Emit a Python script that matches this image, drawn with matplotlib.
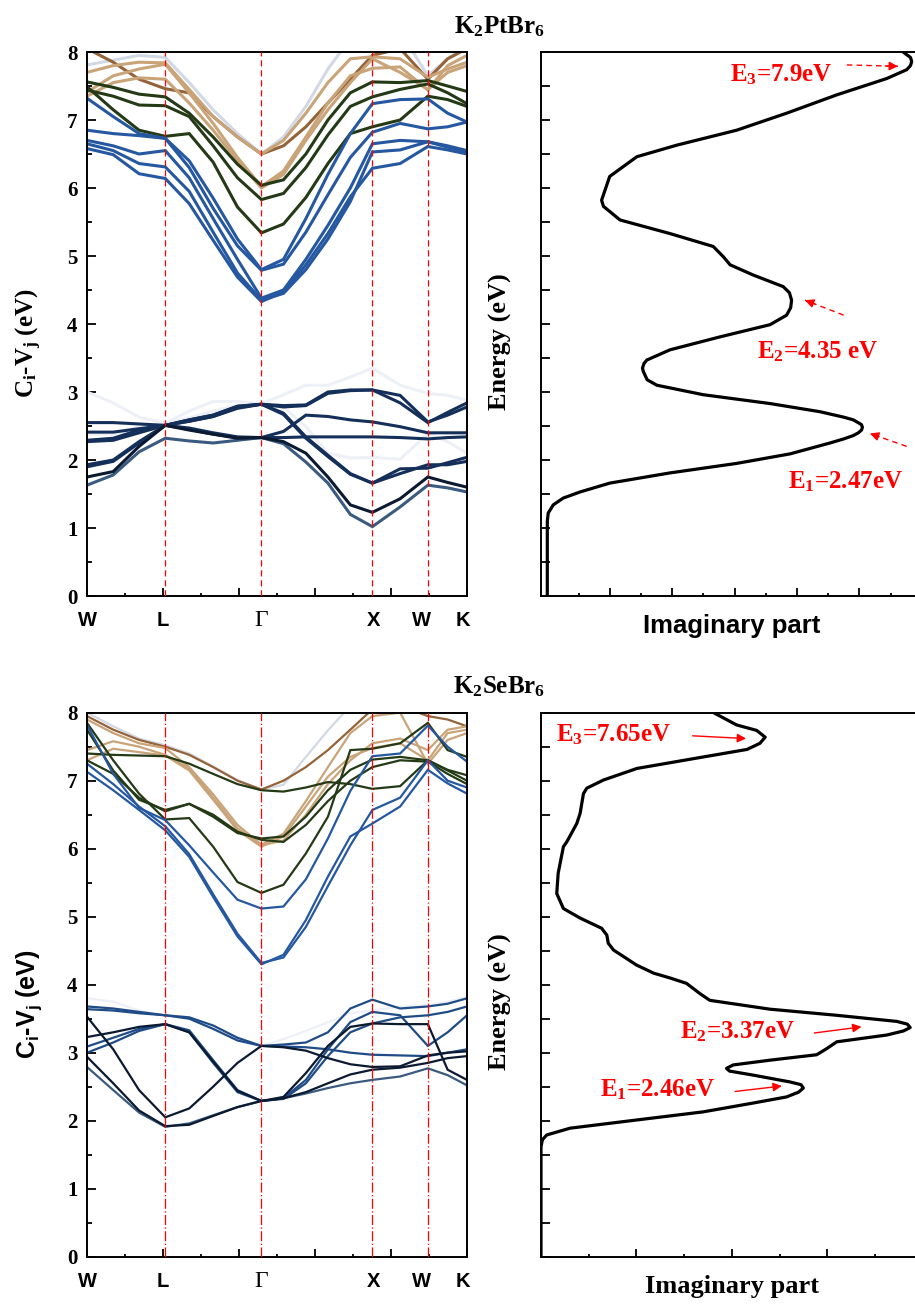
import numpy as np
import matplotlib
matplotlib.use('Agg')
import matplotlib.pyplot as plt
from matplotlib.ticker import MultipleLocator
from matplotlib.transforms import blended_transform_factory

plt.rcParams['mathtext.fontset'] = 'custom'
plt.rcParams['mathtext.rm'] = 'Liberation Serif'
plt.rcParams['mathtext.it'] = 'Liberation Serif:italic'
plt.rcParams['mathtext.bf'] = 'Liberation Serif:bold'
plt.rcParams['mathtext.sf'] = 'Liberation Sans:bold'

# ---------------- k-path ----------------
kpath_labels = ['W', 'L', 'Γ', 'X', 'W', 'K']
kpath_pos = [0.0, 0.206, 0.459, 0.751, 0.897, 1.0]
klabel_pos = [0.0, 0.200, 0.458, 0.753, 0.881, 0.989]
kgrid = [0.0, 0.069, 0.137, 0.206, 0.269, 0.332, 0.396, 0.459, 0.517,
         0.576, 0.634, 0.693, 0.751, 0.824, 0.897, 0.949, 1.0]

# ---------------- K2PtBr6 transition bands (eV) ----------------
pt_lo_white = [
    [3.00, 2.84, 2.63, 2.54, 2.72, 2.86, 2.86, 2.83, 2.96, 3.10, 3.10, 3.22, 3.35, 3.10, 2.98, 2.95, 2.88],
    [2.38, 2.38, 2.49, 2.54, 2.62, 2.72, 2.80, 2.82, 2.78, 2.49, 2.10, 2.03, 2.04, 2.01, 2.39, 2.27, 2.10],
]
pt_lo_navy = [
    [1.93, 2.00, 2.27, 2.51, 2.59, 2.66, 2.79, 2.82, 2.69, 2.34, 2.07, 1.80, 1.66, 1.87, 1.88, 1.96, 2.04],
    [1.90, 1.98, 2.25, 2.51, 2.57, 2.64, 2.77, 2.82, 2.67, 2.32, 2.05, 1.79, 1.66, 1.80, 1.93, 1.93, 1.98],
    [2.55, 2.55, 2.53, 2.51, 2.45, 2.38, 2.33, 2.33, 2.33, 2.34, 2.34, 2.34, 2.34, 2.33, 2.31, 2.33, 2.34],
    [2.41, 2.41, 2.46, 2.51, 2.57, 2.64, 2.76, 2.82, 2.80, 2.81, 3.00, 3.03, 3.03, 2.84, 2.55, 2.70, 2.84],
    [2.29, 2.32, 2.44, 2.51, 2.47, 2.40, 2.34, 2.33, 2.42, 2.66, 2.64, 2.59, 2.56, 2.49, 2.40, 2.40, 2.40],
    [2.27, 2.29, 2.40, 2.51, 2.59, 2.66, 2.79, 2.82, 2.78, 2.80, 2.98, 3.02, 3.03, 2.95, 2.56, 2.66, 2.78],
]
pt_lo_dark = [
    [1.75, 1.83, 2.20, 2.51, 2.44, 2.38, 2.32, 2.33, 2.27, 2.10, 1.75, 1.34, 1.23, 1.43, 1.75, 1.67, 1.60],
]
pt_lo_slate = [
    [1.63, 1.78, 2.12, 2.32, 2.28, 2.25, 2.29, 2.33, 2.24, 1.97, 1.66, 1.20, 1.02, 1.31, 1.63, 1.59, 1.53],
]
pt_up_light = [
    [7.81, 7.88, 7.95, 7.92, 7.55, 7.15, 6.80, 6.50, 6.75, 7.20, 7.75, 8.20, 8.40, 8.30, 7.65, 7.90, 8.10],
]
pt_up_brown = [
    [8.05, 7.85, 7.60, 7.46, 7.40, 7.05, 6.75, 6.50, 6.62, 6.90, 7.25, 7.60, 7.95, 8.05, 7.60, 7.90, 8.05],
]
pt_up_tan = [
    [7.41, 7.65, 7.75, 7.82, 7.40, 6.95, 6.45, 6.02, 6.25, 6.75, 7.25, 7.65, 7.76, 7.78, 7.44, 7.80, 7.95],
    [7.70, 7.80, 7.85, 7.84, 7.45, 7.05, 6.75, 6.50, 6.70, 7.10, 7.55, 7.90, 7.93, 7.90, 7.63, 7.75, 7.85],
    [7.35, 7.55, 7.62, 7.60, 7.25, 6.85, 6.40, 6.00, 6.20, 6.70, 7.15, 7.55, 7.90, 7.70, 7.45, 7.70, 7.80],
]
pt_up_green = [
    [7.49, 7.15, 6.85, 6.76, 6.80, 6.38, 5.72, 5.34, 5.47, 5.86, 6.36, 6.80, 6.90, 7.00, 7.35, 7.30, 7.20],
    [7.44, 7.35, 7.22, 7.21, 7.05, 6.62, 6.15, 5.83, 5.92, 6.30, 6.78, 7.20, 7.34, 7.45, 7.53, 7.40, 7.24],
    [7.56, 7.48, 7.38, 7.34, 7.10, 6.75, 6.35, 6.04, 6.12, 6.50, 7.00, 7.40, 7.56, 7.55, 7.58, 7.50, 7.42],
]
pt_up_blue = [
    [6.58, 6.49, 6.21, 6.14, 5.77, 5.23, 4.69, 4.33, 4.47, 4.87, 5.33, 5.87, 6.29, 6.36, 6.61, 6.56, 6.50],
    [6.65, 6.55, 6.36, 6.31, 5.95, 5.35, 4.75, 4.35, 4.45, 4.80, 5.25, 5.80, 6.53, 6.56, 6.68, 6.60, 6.53],
    [6.70, 6.62, 6.50, 6.55, 6.15, 5.55, 4.95, 4.38, 4.50, 4.95, 5.45, 6.00, 6.65, 6.70, 6.68, 6.62, 6.55],
    [6.85, 6.80, 6.77, 6.73, 6.30, 5.70, 5.15, 4.79, 4.88, 5.35, 5.90, 6.45, 6.82, 6.95, 6.87, 6.90, 6.97],
    [7.32, 7.05, 6.80, 6.73, 6.40, 5.85, 5.25, 4.80, 4.95, 5.55, 6.20, 6.80, 7.24, 7.30, 7.31, 7.10, 6.97],
]

# ---------------- K2SeBr6 transition bands (eV) ----------------
se_lo_white = [
    [3.80, 3.75, 3.62, 3.55, 3.52, 3.38, 3.20, 3.10, 3.20, 3.32, 3.45, 3.58, 3.62, 3.68, 3.70, 3.75, 3.82],
]
se_lo_blue = [
    [3.64, 3.62, 3.58, 3.55, 3.52, 3.40, 3.22, 3.10, 3.09, 3.08, 3.05, 3.00, 2.97, 2.96, 2.95, 3.00, 3.05],
    [3.09, 3.22, 3.35, 3.42, 3.33, 2.89, 2.45, 2.29, 2.33, 2.60, 3.05, 3.45, 3.60, 3.55, 3.10, 3.30, 3.55],
    [3.00, 3.15, 3.32, 3.42, 3.30, 2.85, 2.42, 2.29, 2.32, 2.55, 2.95, 3.30, 3.43, 3.52, 3.55, 3.60, 3.68],
    [3.68, 3.65, 3.60, 3.55, 3.50, 3.35, 3.18, 3.10, 3.12, 3.15, 3.30, 3.65, 3.78, 3.65, 3.68, 3.72, 3.80],
]
se_lo_dark = [
    [3.53, 3.05, 2.45, 2.05, 2.18, 2.50, 2.85, 3.10, 3.08, 3.03, 2.92, 2.83, 2.79, 2.80, 2.96, 3.00, 3.02],
    [2.94, 2.55, 2.15, 1.92, 1.94, 2.07, 2.20, 2.29, 2.33, 2.42, 2.55, 2.68, 2.75, 2.78, 2.85, 2.92, 2.95],
    [3.23, 3.30, 3.38, 3.42, 3.30, 2.87, 2.44, 2.29, 2.35, 2.70, 3.10, 3.38, 3.43, 3.42, 3.42, 2.75, 2.60],
]
se_lo_slate = [
    [2.79, 2.45, 2.12, 1.91, 1.96, 2.08, 2.20, 2.29, 2.33, 2.40, 2.48, 2.55, 2.60, 2.65, 2.77, 2.67, 2.52],
]
se_up_light = [
    [8.00, 7.80, 7.62, 7.52, 7.40, 7.21, 7.01, 6.87, 6.94, 7.35, 7.74, 8.10, 8.40, 8.40, 8.30, 8.20, 8.20],
]
se_up_brown = [
    [7.95, 7.75, 7.60, 7.50, 7.38, 7.20, 7.00, 6.87, 7.00, 7.20, 7.45, 7.75, 8.05, 8.10, 7.95, 7.90, 7.80],
]
se_up_tan = [
    [7.30, 7.47, 7.42, 7.37, 7.15, 6.72, 6.27, 6.03, 6.18, 6.62, 7.06, 7.35, 7.48, 7.55, 7.30, 7.70, 7.75],
    [7.45, 7.58, 7.50, 7.38, 7.18, 6.75, 6.30, 6.05, 6.12, 6.50, 6.95, 7.30, 7.55, 7.62, 7.45, 7.75, 7.80],
    [7.90, 7.70, 7.55, 7.48, 7.20, 6.80, 6.35, 6.06, 6.22, 6.70, 7.20, 7.70, 7.95, 8.00, 7.25, 7.60, 7.70],
]
se_up_green = [
    [7.85, 7.30, 6.81, 6.43, 6.45, 6.03, 5.51, 5.35, 5.47, 5.93, 6.47, 7.45, 7.47, 7.55, 7.85, 7.45, 7.35],
    [7.75, 7.15, 6.72, 6.57, 6.66, 6.47, 6.23, 6.15, 6.18, 6.47, 6.86, 7.16, 7.31, 7.35, 7.30, 7.16, 7.08],
    [7.40, 7.38, 7.37, 7.36, 7.25, 7.10, 6.95, 6.86, 6.84, 6.90, 6.98, 6.95, 6.88, 6.92, 7.30, 7.15, 7.00],
    [7.30, 7.10, 6.75, 6.55, 6.66, 6.50, 6.25, 6.13, 6.10, 6.35, 6.70, 7.00, 7.20, 7.30, 7.28, 7.10, 6.95],
]
se_up_blue = [
    [7.13, 6.86, 6.57, 6.27, 5.88, 5.29, 4.71, 4.30, 4.44, 4.95, 5.59, 6.18, 6.37, 6.62, 7.16, 6.96, 6.81],
    [7.25, 6.95, 6.62, 6.33, 5.92, 5.33, 4.75, 4.32, 4.40, 4.85, 5.45, 6.05, 6.57, 6.75, 7.30, 7.00, 6.90],
    [7.82, 7.10, 6.60, 6.42, 6.05, 5.65, 5.25, 5.12, 5.15, 5.55, 6.15, 6.85, 7.36, 7.40, 7.81, 7.50, 7.28],
]

# ---------------- Imaginary part of dielectric function ----------------
pt_eps_x = [0.0, 0.0, 0.03, 0.19, 0.51, 1.05, 2.0, 3.93, 6.07, 7.78, 9.06, 9.5, 9.81, 9.97, 10.07,
            10.1, 10.07, 9.96, 9.81, 9.5, 8.74, 7.14, 5.0, 3.51, 3.2, 3.08, 3.05, 3.1, 3.19, 3.93,
            5.53, 7.14, 7.67, 7.8, 7.83, 7.76, 7.56, 6.6, 5.86, 5.64, 5.32, 3.93, 2.33, 1.8, 1.74,
            2.0, 2.87, 4.15, 6.07, 7.67, 9.28, 10.88, 11.52, 11.64, 11.68, 11.64, 11.52, 11.35]
pt_eps_E = [0.0, 1.10, 1.22, 1.34, 1.44, 1.53, 1.66, 1.81, 1.95, 2.09, 2.25, 2.31, 2.36, 2.40, 2.44,
            2.48, 2.52, 2.55, 2.59, 2.63, 2.71, 2.83, 2.96, 3.10, 3.18, 3.30, 3.35, 3.42, 3.47, 3.62,
            3.81, 3.99, 4.13, 4.24, 4.35, 4.46, 4.55, 4.72, 4.87, 4.99, 5.14, 5.33, 5.53, 5.73, 5.82,
            6.17, 6.46, 6.63, 6.85, 7.10, 7.37, 7.61, 7.74, 7.80, 7.86, 7.92, 7.96, 8.02]

se_eps_x = [0.0, 0.0, 0.03, 0.12, 0.61, 2.0, 3.4, 4.45, 5.15, 5.4, 5.5, 5.45, 5.22, 4.45, 3.95,
            3.89, 4.03, 4.8, 5.78, 5.99, 6.2, 7.25, 7.6, 7.74, 7.68, 7.46, 6.2, 4.8, 3.54, 3.33,
            3.05, 2.7, 2.36, 2.0, 1.52, 1.41, 1.38, 1.27, 0.82, 0.47, 0.33, 0.36, 0.47, 0.54, 0.75,
            0.82, 0.89, 0.96, 1.31, 2.01, 3.41, 4.32, 4.59, 4.7, 4.52, 4.1, 3.62]
se_eps_E = [0.0, 1.62, 1.72, 1.79, 1.89, 2.01, 2.13, 2.26, 2.35, 2.42, 2.48, 2.53, 2.57, 2.67, 2.73,
            2.77, 2.82, 2.89, 2.97, 3.06, 3.16, 3.26, 3.32, 3.37, 3.42, 3.46, 3.55, 3.64, 3.77, 3.87,
            4.02, 4.10, 4.17, 4.29, 4.51, 4.61, 4.73, 4.83, 4.98, 5.12, 5.34, 5.64, 6.03, 6.10, 6.37,
            6.52, 6.81, 6.89, 7.01, 7.18, 7.35, 7.46, 7.55, 7.64, 7.74, 7.82, 8.0]

pt_peaks = ['E$_\\mathbf{3}$=7.9eV', 'E$_\\mathbf{2}$=4.35 eV', 'E$_\\mathbf{1}$=2.47eV']
se_peaks = ['E$_\\mathbf{3}$=7.65eV', 'E$_\\mathbf{2}$=3.37eV', 'E$_\\mathbf{1}$=2.46eV']

# ---------------- figure ----------------
W, H = 915, 1304
fig = plt.figure(figsize=(W / 100, H / 100), dpi=100)


def fx(px):
    return px / W


def fy(py):
    return 1 - py / H


def axes_px(x0, y0, x1, y1):
    return fig.add_axes([fx(x0), fy(y1), fx(x1) - fx(x0), fy(y0) - fy(y1)])


col = dict(white='#edf0f6', navy='#14305a', dark='#0b1a30', slate='#3b5a80',
           light='#d3d9e4', brown='#94633a', tan='#c9a479', green='#243a16',
           blue='#2558a0', blue2='#1f4c86')

SERIF = 'Liberation Serif'
SANS = 'Liberation Sans'
RED = '#ff0000'


def band_axes(ax, groups, lw, vline_style, ylab, ylab_family):
    for data, c in groups:
        for band in data:
            ax.plot(kgrid, band, color=c, lw=lw, solid_joinstyle='miter', zorder=2)
    for xv in kpath_pos[1:-1]:
        ax.axvline(xv, color=RED, lw=0.9, ls=vline_style, zorder=4)
    ax.set_xlim(0, 1)
    ax.set_ylim(0, 8)
    ax.xaxis.set_major_locator(MultipleLocator(0.2))
    ax.xaxis.set_minor_locator(MultipleLocator(0.1))
    ax.yaxis.set_major_locator(MultipleLocator(1))
    ax.yaxis.set_minor_locator(MultipleLocator(0.5))
    ax.tick_params(which='both', direction='in', top=False, right=False, width=1.3)
    ax.tick_params(axis='y', which='major', length=6.5, pad=7)
    ax.tick_params(axis='y', which='minor', length=3.6)
    ax.tick_params(axis='x', which='major', length=5.5, labelbottom=False)
    ax.tick_params(axis='x', which='minor', length=2.4)
    for lab in ax.get_yticklabels():
        lab.set_fontfamily(SERIF)
        lab.set_fontweight('bold')
        lab.set_fontsize(15)
    for s in ax.spines.values():
        s.set_linewidth(1.4)
    tr = blended_transform_factory(ax.transData, ax.transAxes)
    for lbl, xp in zip(kpath_labels, klabel_pos):
        if lbl == 'Γ':
            ax.text(xp, -0.045, lbl, transform=tr, ha='center', va='center',
                    fontsize=17, family=SERIF)
        else:
            ax.text(xp, -0.045, lbl, transform=tr, ha='center', va='center',
                    fontsize=14.5, family=SANS, fontweight='bold')
    ax.set_ylabel(ylab, fontsize=18, family=ylab_family, fontweight='bold')
    ax.yaxis.set_label_coords(-0.153, 0.465)
    ax.yaxis.label.set_va('center')


def eps_axes(ax, x, E, xmax, xmin, xlab_family, xlab_size):
    ax.plot(x, E, color='black', lw=2.3, zorder=3, solid_joinstyle='round')
    ax.set_xlim(xmin, xmax)
    ax.set_ylim(0, 8)
    ax.xaxis.set_major_locator(MultipleLocator(2))
    ax.xaxis.set_minor_locator(MultipleLocator(1))
    ax.yaxis.set_major_locator(MultipleLocator(0.5))
    ax.tick_params(which='both', direction='in', top=False, right=False, width=1.3,
                   labelleft=False, labelbottom=False)
    ax.tick_params(axis='y', which='major', length=6.2)
    ax.tick_params(axis='x', which='major', length=6.0)
    ax.tick_params(axis='x', which='minor', length=2.4)
    for s in ax.spines.values():
        s.set_linewidth(1.4)
    ax.spines['right'].set_visible(False)
    ax.set_ylabel('Energy (eV)', fontsize=19, family=SERIF, fontweight='bold')
    ax.yaxis.set_label_coords(-0.105, 0.468)
    ax.yaxis.label.set_va('center')
    ax.set_xlabel('Imaginary part', fontsize=xlab_size, family=xlab_family, fontweight='bold')
    ax.xaxis.set_label_coords(0.494, -0.055)
    ax.xaxis.label.set_va('center')


def arrow(ax, tail, head, dashed):
    if dashed:
        ax.plot([tail[0], head[0]], [tail[1], head[1]], color=RED, lw=1.0,
                ls=(0, (4, 3)), zorder=5)
        ax.annotate('', xy=head, xytext=(head[0] - (head[0] - tail[0]) * 0.25,
                                         head[1] - (head[1] - tail[1]) * 0.25),
                    arrowprops=dict(arrowstyle='-|>', color=RED, lw=1.0,
                                    mutation_scale=13, shrinkA=0, shrinkB=0), zorder=6)
    else:
        ax.annotate('', xy=head, xytext=tail,
                    arrowprops=dict(arrowstyle='-|>', color=RED, lw=1.0,
                                    mutation_scale=13, shrinkA=0, shrinkB=0), zorder=6)


# --- top left: K2PtBr6 bands
ax1 = axes_px(87, 52, 467, 596)
band_axes(ax1,
          [(pt_lo_white, col['white']), (pt_up_light, col['light']), (pt_up_brown, col['brown']),
           (pt_up_tan, col['tan']), (pt_up_green, col['green']), (pt_up_blue, col['blue']),
           (pt_lo_slate, col['slate']), (pt_lo_navy, col['navy']), (pt_lo_dark, col['dark'])],
          2.2, (0, (5, 3)), r'C$_\mathbf{i}$-V$_\mathbf{j}$ (eV)', SERIF)

# --- bottom left: K2SeBr6 bands
ax3 = axes_px(87, 712.7, 467, 1256.7)
band_axes(ax3,
          [(se_lo_white, col['white']), (se_up_light, col['light']), (se_up_brown, col['brown']),
           (se_up_tan, col['tan']), (se_up_green, col['green']), (se_up_blue, col['blue']),
           (se_lo_slate, col['slate']), (se_lo_blue, col['blue2']), (se_lo_dark, col['dark'])],
          1.6, (0, (8, 2, 1, 2)), r'$\mathsf{C_i}$-$\mathsf{V_j}$ (eV)', SANS)

# --- top right: K2PtBr6 Im(eps)
ax2 = axes_px(540.7, 52, 928, 596)
eps_axes(ax2, pt_eps_x, pt_eps_E, (928 - 547.3) / 31.2, (540.7 - 547.3) / 31.2, SANS, 18.5)
ax2.text(5.85, 7.66, pt_peaks[0], color=RED, fontsize=18, family=SERIF,
         fontweight='bold', va='center', ha='left')
ax2.text(6.72, 3.59, pt_peaks[1], color=RED, fontsize=18, family=SERIF,
         fontweight='bold', va='center', ha='left')
ax2.text(7.71, 1.68, pt_peaks[2], color=RED, fontsize=18, family=SERIF,
         fontweight='bold', va='center', ha='left')
arrow(ax2, (9.6, 7.81), (11.24, 7.79), True)
arrow(ax2, (9.5, 4.13), (8.26, 4.35), True)
arrow(ax2, (11.52, 2.20), (10.34, 2.39), True)

# --- bottom right: K2SeBr6 Im(eps)
ax4 = axes_px(541, 712.7, 928, 1256.7)
eps_axes(ax4, se_eps_x, se_eps_E, (928 - 541) / 47.7, 0, SERIF, 19)
ax4.text(0.31, 7.67, se_peaks[0], color=RED, fontsize=18, family=SERIF,
         fontweight='bold', va='center', ha='left')
ax4.text(2.91, 3.31, se_peaks[1], color=RED, fontsize=18, family=SERIF,
         fontweight='bold', va='center', ha='left')
ax4.text(1.24, 2.45, se_peaks[2], color=RED, fontsize=18, family=SERIF,
         fontweight='bold', va='center', ha='left')
arrow(ax4, (3.18, 7.66), (4.30, 7.62), False)
arrow(ax4, (5.73, 3.29), (6.72, 3.38), False)
arrow(ax4, (4.07, 2.43), (5.05, 2.51), False)

# --- titles
fig.text(fx(499), fy(27), r'$\mathbf{K_2PtBr_6}$', fontsize=18, ha='center', va='center')
fig.text(fx(499), fy(687), r'$\mathbf{K_2SeBr_6}$', fontsize=18, ha='center', va='center')

fig.savefig('out.png', dpi=100)
